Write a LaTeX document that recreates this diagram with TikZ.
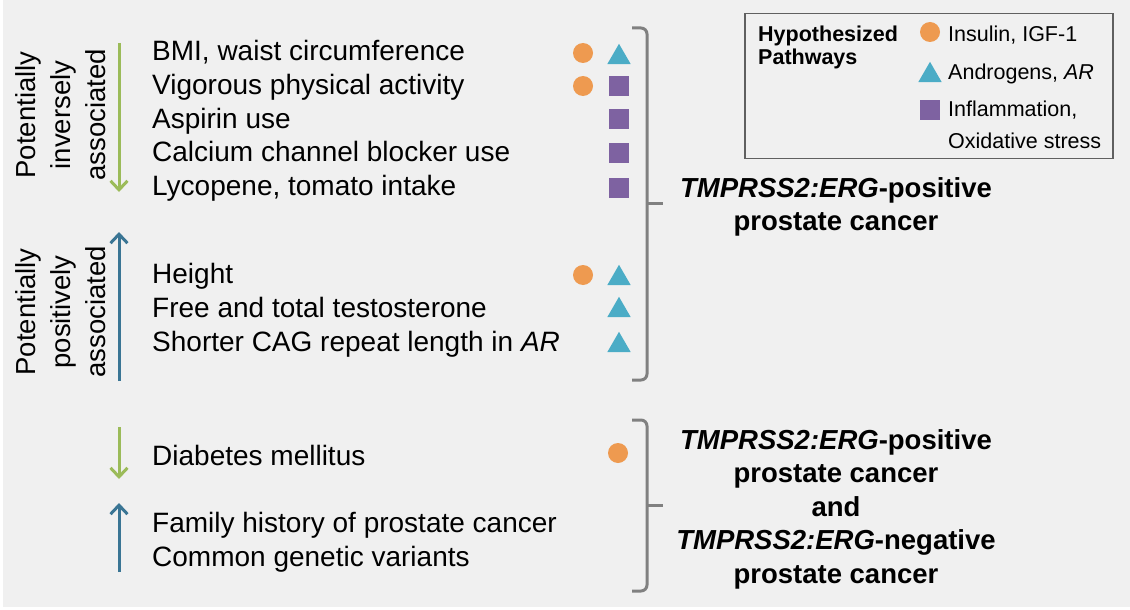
\documentclass[tikz,border=0pt]{standalone}
\usepackage{fontspec}
\setmainfont{Liberation Sans}
\usetikzlibrary{arrows.meta,shapes.geometric}

\definecolor{bggray}{HTML}{F0F0F0}
\definecolor{insorange}{HTML}{EE9A50}
\definecolor{andteal}{HTML}{4BACC6}
\definecolor{inflpurple}{HTML}{7E62A1}
\definecolor{invgreen}{HTML}{9BBB59}
\definecolor{posblue}{HTML}{3A7594}
\definecolor{bracegray}{HTML}{808080}
\definecolor{keyframe}{HTML}{606060}

\newcommand\itemfont{\fontsize{28}{33.5}\selectfont}
\newcommand\outfont{\fontsize{27.5}{33.5}\selectfont}
\newcommand\keyfont{\fontsize{21.5}{25}\selectfont}
\newcommand\erg{\textit{TMPRSS2:ERG}}

\tikzset{
  factor/.style={anchor=base west, inner sep=0pt, font=\itemfont},
  assoc/.style={anchor=base, rotate=90, inner sep=0pt, font=\outfont},
  outcome/.style={align=center, inner sep=0pt, font=\outfont\bfseries},
  keytext/.style={anchor=base west, inner sep=0pt, font=\keyfont},
  insulin/.style={circle, fill=insorange, minimum size=20, inner sep=0pt},
  androgen/.style={regular polygon, regular polygon sides=3, fill=andteal,
    minimum size=27, inner sep=0pt, yshift=-3.3pt},
  inflam/.style={rectangle, fill=inflpurple, minimum size=20, inner sep=0pt},
  inverse/.style={draw=invgreen, line width=3, -{Straight Barb[length=9pt,width=17pt]}},
  positive/.style={draw=posblue, line width=3, -{Straight Barb[length=9pt,width=17pt]}},
  brace/.style={draw=bracegray, line width=3, rounded corners=6},
}

\begin{document}
\begin{tikzpicture}[x=1pt,y=-1pt]
\useasboundingbox (0,0) rectangle (1130,610);
\fill[white] (0,0) rectangle (1130,610);
\fill[bggray] (3,0) rectangle (1130,607);

\node[assoc] (inv1) at (35,115) {Potentially};
\node[assoc] (inv2) at (70,115) {inversely};
\node[assoc] (inv3) at (105,115) {associated};
\node[assoc] (pos1) at (35,312) {Potentially};
\node[assoc] (pos2) at (70,312) {positively};
\node[assoc] (pos3) at (105,312) {associated};

\coordinate (inv top) at (119,43);
\coordinate (inv bot) at (119,192);
\coordinate (pos bot) at (119,381);
\coordinate (pos top) at (119,232);
\coordinate (diab top) at (119,427);
\coordinate (diab bot) at (119,479);
\coordinate (fam bot) at (119,572);
\coordinate (fam top) at (119,503);
\draw[inverse] (inv top) -- (inv bot);
\draw[positive] (pos bot) -- (pos top);
\draw[inverse] (diab top) -- (diab bot);
\draw[positive] (fam bot) -- (fam top);

\node[factor] (bmi) at (152,61) {BMI, waist circumference};
\node[factor] (vig) at (152,94) {Vigorous physical activity};
\node[factor] (asp) at (152,128) {Aspirin use};
\node[factor] (ccb) at (152,161) {Calcium channel blocker use};
\node[factor] (lyc) at (152,195) {Lycopene, tomato intake};
\node[factor] (hgt) at (152,283) {Height};
\node[factor] (tst) at (152,317) {Free and total testosterone};
\node[factor] (cag) at (152,351) {Shorter CAG repeat length in \textit{AR}};
\node[factor] (dia) at (152,465) {Diabetes mellitus};
\node[factor] (fam) at (152,532) {Family history of prostate cancer};
\node[factor] (gen) at (152,566) {Common genetic variants};

\node[insulin] (bmi ins) at (583,53) {};
\node[androgen] (bmi and) at (619,54) {};
\node[insulin] (vig ins) at (583,86) {};
\node[inflam] (vig inf) at (619,86) {};
\node[inflam] (asp inf) at (619,119) {};
\node[inflam] (ccb inf) at (619,153) {};
\node[inflam] (lyc inf) at (619,188) {};
\node[insulin] (hgt ins) at (583,275) {};
\node[androgen] (hgt and) at (619,275) {};
\node[androgen] (tst and) at (619,307) {};
\node[androgen] (cag and) at (619,342) {};
\node[insulin] (dia ins) at (618,453) {};

\coordinate (up top) at (632,28);
\coordinate (up bot) at (632,380);
\coordinate (up mid) at (647,203);
\coordinate (lo top) at (632,420);
\coordinate (lo bot) at (632,591);
\coordinate (lo mid) at (647,505);
\draw[brace] (up top) -- ++(15,0) |- (up bot);
\draw[brace] (up mid) -- ++(16,0);
\draw[brace] (lo top) -- ++(15,0) |- (lo bot);
\draw[brace] (lo mid) -- ++(16,0);

\node[outcome] (ergpos) at (836,207) {\erg-positive\\prostate cancer};
\node[outcome] (ergboth) at (836,509) {\erg-positive\\prostate cancer\\and\\\erg-negative\\prostate cancer};

\node[draw=keyframe, line width=1.5, minimum width=368, minimum height=145,
  inner sep=0pt] (key) at (929,86) {};
\node[keytext, font=\keyfont\bfseries] (hyp) at (758,42) {Hypothesized};
\node[keytext, font=\keyfont\bfseries] (pw) at (758,65) {Pathways};
\node[insulin] (key ins) at (930,32) {};
\node[androgen] (key and) at (930,72) {};
\node[inflam] (key inf) at (930,110) {};
\node[keytext] (ins lab) at (948,42) {Insulin, IGF-1};
\node[keytext] (and lab) at (948,80) {Androgens, \textit{AR}};
\node[keytext] (inf lab) at (948,117) {Inflammation,};
\node[keytext] (ox lab) at (948,148) {Oxidative stress};
\end{tikzpicture}
\end{document}
